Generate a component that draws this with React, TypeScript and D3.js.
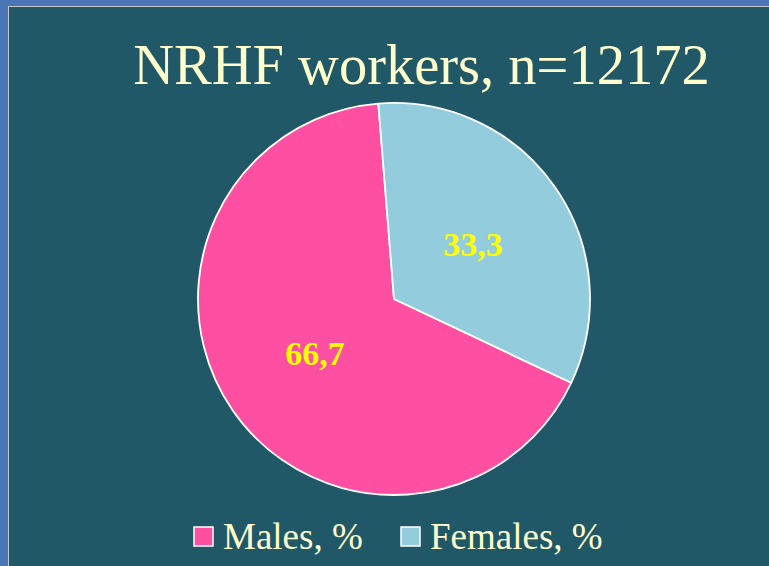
import React, { useEffect, useRef } from "react";
import * as d3 from "d3";

const categories = ["Males, %", "Females, %"];
const values = [66.7, 33.3];
const valueLabels = ["66,7", "33,3"];
const sliceColors = ["#ff4fa2", "#93cddd"];
const title = "NRHF workers, n=12172";

export default function App() {
  const svgRef = useRef<SVGSVGElement | null>(null);

  useEffect(() => {
    if (!svgRef.current) return;
    const width = 769;
    const height = 566;

    const svg = d3.select(svgRef.current);
    svg.selectAll("*").remove();
    svg.attr("width", width).attr("height", height).attr("viewBox", `0 0 ${width} ${height}`);

    // slide frame
    svg.append("rect").attr("width", width).attr("height", height).attr("fill", "#4a76b6");
    svg
      .append("rect")
      .attr("x", 8.5)
      .attr("y", 6.5)
      .attr("width", width)
      .attr("height", height)
      .attr("fill", "#215868")
      .attr("stroke", "#c4c8cc")
      .attr("stroke-width", 1);

    svg
      .append("text")
      .attr("x", 421.5)
      .attr("y", 84)
      .attr("text-anchor", "middle")
      .attr("font-family", "Liberation Serif, Times New Roman, serif")
      .attr("font-size", 56.5)
      .attr("fill", "#ffffcc")
      .text(title);

    const cx = 394;
    const cy = 299;
    const r = 196;
    const start = (115.3 * Math.PI) / 180;

    const pie = d3
      .pie<number>()
      .sort(null)
      .startAngle(start)
      .endAngle(start + 2 * Math.PI);
    const arcs = pie(values);
    const arc = d3.arc<d3.PieArcDatum<number>>().innerRadius(0).outerRadius(r);
    const labelArc = d3.arc<d3.PieArcDatum<number>>().innerRadius(r * 0.49).outerRadius(r * 0.49);

    const g = svg.append("g").attr("transform", `translate(${cx},${cy})`);
    g.selectAll("path")
      .data(arcs)
      .join("path")
      .attr("d", arc)
      .attr("fill", (_d, i) => sliceColors[i])
      .attr("stroke", "#ffffff")
      .attr("stroke-width", 1.8)
      .attr("stroke-linejoin", "round");

    g.selectAll("text")
      .data(arcs)
      .join("text")
      .attr("transform", (d) => `translate(${labelArc.centroid(d)})`)
      .attr("text-anchor", "middle")
      .attr("dy", "0.35em")
      .attr("font-family", "Liberation Serif, Times New Roman, serif")
      .attr("font-weight", "bold")
      .attr("font-size", 34)
      .attr("fill", "#ffff00")
      .text((_d, i) => valueLabels[i]);

    // legend
    const legendX = [194, 401];
    const legend = svg
      .selectAll("g.legend")
      .data(categories)
      .join("g")
      .attr("class", "legend")
      .attr("transform", (_d, i) => `translate(${legendX[i]},527)`);
    legend
      .append("rect")
      .attr("width", 19)
      .attr("height", 19)
      .attr("fill", (_d, i) => sliceColors[i])
      .attr("stroke", "#ffffff")
      .attr("stroke-width", 1.5);
    legend
      .append("text")
      .attr("x", 29)
      .attr("y", 22)
      .attr("font-family", "Liberation Serif, Times New Roman, serif")
      .attr("font-size", 37)
      .attr("fill", "#ffffcc")
      .text((d) => d);
  }, []);

  return (
    <svg
      ref={svgRef}
      style={{ position: "fixed", left: 0, top: 0, display: "block" }}
    />
  );
}
